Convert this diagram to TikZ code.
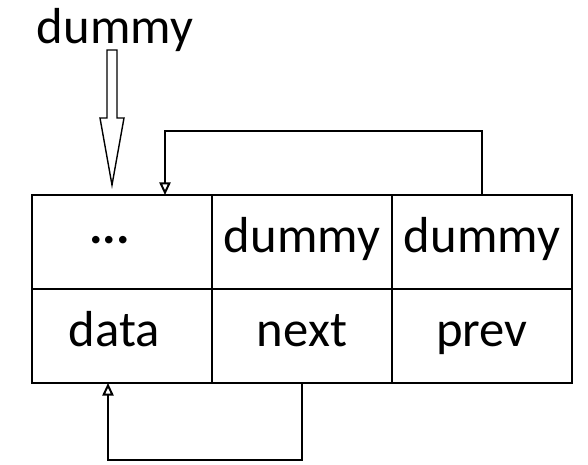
\documentclass[tikz,border=0pt]{standalone}
\usepackage{fontspec}
\setmainfont{Carlito}
\usetikzlibrary{positioning}
\usetikzlibrary{arrows.meta}
\usetikzlibrary{calc}

\tikzset{
  cell/.style={draw, line width=1.4pt, minimum width=4.5cm, minimum height=2.35cm, inner sep=0pt,
               text height=22pt, text depth=7pt},
  link/.style={line width=1.4pt, -{Triangle[open, length=9pt, width=8pt]}},
}

\begin{document}
\begin{tikzpicture}[x=0.025cm, y=0.025cm, font=\fontsize{36}{40}\selectfont]
 \useasboundingbox (0,0) rectangle (588,465);

 %node: top row
 \def\dx{122}
 \def\dy{223};
 \foreach \i/\name/\txt in {0/1/{\hspace*{-0.5em}\raisebox{0.17em}{\textbf{...}}}, 1/2/dummy, 2/3/dummy} {
         \node[cell] (T\name) at (\i*180 + \dx, \dy) {\txt};
 }

 %node: bottom row
 \def\dy{129};
 \foreach \i/\name/\txt in {0/1/{\hspace*{-0.3em}data}, 1/2/next, 2/3/prev} {
         \node[cell] (B\name) at (\i*180 + \dx, \dy) {\txt};
 }

 %head pointer
 \node (head) at (115, 435) {dummy};
 \coordinate (headtop) at (112, 415);
 \coordinate (headin) at (112, 280);
 \draw[line width=1pt] ($(headtop)+(-5,0)$) -- ($(headin)+(-5,67)$) -- ($(headin)+(-12,67)$)
     -- (headin) -- ($(headin)+(12,67)$) -- ($(headin)+(5,67)$) -- ($(headtop)+(5,0)$) -- cycle;

 %arrow: prev
 \coordinate (previn) at (165, 270);
 \draw[link] (T3.north) -- ++(0,63) -| (previn);

 %arrow: next
 \coordinate (nextin) at (108, 82);
 \draw[link] (B2.south) -- ++(0,-76) -| (nextin);

\end{tikzpicture}
\end{document}
